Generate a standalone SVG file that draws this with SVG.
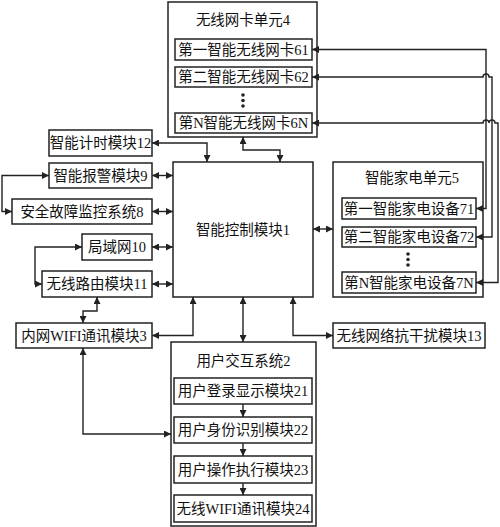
<svg xmlns="http://www.w3.org/2000/svg" width="500" height="527" viewBox="0 0 500 527">
<style>
.b{fill:#fff;stroke:#222;stroke-width:1.5}
.t{font-family:"Liberation Serif","Noto Sans CJK SC",serif;font-size:14.5px;fill:#111;text-anchor:middle}
.c{fill:none;stroke:#222;stroke-width:1.4}
.d{fill:#222}
</style>
<defs>
<marker id="ah" viewBox="0 0 10 10" refX="10" refY="5" markerWidth="7" markerHeight="7" markerUnits="userSpaceOnUse" orient="auto-start-reverse"><path d="M0,0 L10,5 L0,10 z" fill="#222"/></marker>
</defs>
<rect width="500" height="527" fill="#fff"/>
<g id="n4">
<rect class="b" x="168" y="2" width="149" height="135"/>
<text class="t" x="243" y="25">无线网卡单元4</text>
</g>
<g id="n61"><rect class="b" x="175" y="39" width="137" height="21"/><text class="t" x="243.5" y="55">第一智能无线网卡61</text></g>
<g id="n62"><rect class="b" x="175" y="67" width="137" height="20"/><text class="t" x="243.5" y="82">第二智能无线网卡62</text></g>
<g id="dots4"><circle class="d" cx="243" cy="95" r="1.8"/><circle class="d" cx="243" cy="100.5" r="1.8"/><circle class="d" cx="243" cy="106" r="1.8"/></g>
<g id="n6N"><rect class="b" x="175" y="113" width="137" height="20"/><text class="t" x="243.5" y="128">第N智能无线网卡6N</text></g>
<g id="n5">
<rect class="b" x="333" y="162" width="150" height="135"/>
<text class="t" x="412" y="183">智能家电单元5</text>
</g>
<g id="n71"><rect class="b" x="342" y="198" width="134" height="21"/><text class="t" x="409" y="214">第一智能家电设备71</text></g>
<g id="n72"><rect class="b" x="342" y="227" width="134" height="20"/><text class="t" x="409" y="242">第二智能家电设备72</text></g>
<g id="dots5"><circle class="d" cx="408" cy="254" r="1.8"/><circle class="d" cx="408" cy="259.5" r="1.8"/><circle class="d" cx="408" cy="265" r="1.8"/></g>
<g id="n7N"><rect class="b" x="342" y="272" width="134" height="21"/><text class="t" x="409" y="288">第N智能家电设备7N</text></g>
<g id="n1"><rect class="b" x="173" y="162" width="140" height="135"/><text class="t" x="243" y="235">智能控制模块1</text></g>
<g id="n12"><rect class="b" x="49" y="130" width="103" height="26"/><text class="t" x="100.5" y="148">智能计时模块12</text></g>
<g id="n9"><rect class="b" x="49" y="163" width="103" height="25"/><text class="t" x="100.5" y="180.5">智能报警模块9</text></g>
<g id="n8"><rect class="b" x="12" y="199" width="140" height="25"/><text class="t" x="82" y="216.5">安全故障监控系统8</text></g>
<g id="n10"><rect class="b" x="82" y="234" width="70" height="26"/><text class="t" x="117" y="252">局域网10</text></g>
<g id="n11"><rect class="b" x="42" y="271" width="110" height="26"/><text class="t" x="97" y="289">无线路由模块11</text></g>
<g id="n3"><rect class="b" x="16" y="323" width="136" height="25"/><text class="t" x="84" y="340.5">内网WIFI通讯模块3</text></g>
<g id="n13"><rect class="b" x="333" y="323" width="152" height="25"/><text class="t" x="409" y="340.5">无线网络抗干扰模块13</text></g>
<g id="n2">
<rect class="b" x="171" y="342" width="145" height="184"/>
<text class="t" x="243.5" y="366">用户交互系统2</text>
</g>
<g id="n21"><rect class="b" x="174" y="378" width="138" height="26"/><text class="t" x="243" y="396">用户登录显示模块21</text></g>
<g id="n22"><rect class="b" x="174" y="417" width="138" height="26"/><text class="t" x="243" y="435">用户身份识别模块22</text></g>
<g id="n23"><rect class="b" x="174" y="456" width="138" height="27"/><text class="t" x="243" y="474.5">用户操作执行模块23</text></g>
<g id="n24"><rect class="b" x="174" y="495" width="138" height="27"/><text class="t" x="243" y="513.5">无线WIFI通讯模块24</text></g>
<g id="connectors" class="c" marker-start="url(#ah)" marker-end="url(#ah)">
<path class="c" d="M152,143 H207 V162"/>
<path class="c" d="M243,137 V150 H280 V162"/>
<path class="c" d="M152,175.5 H173"/>
<path class="c" d="M152,211.5 H173"/>
<path class="c" d="M152,247 H173"/>
<path class="c" d="M152,284 H173"/>
<path class="c" d="M313,229 H333"/>
<path class="c" d="M49,175.5 H2 V211.5 H12"/>
<path class="c" d="M82,247 H35 V284 H42"/>
<path class="c" d="M97,297 V311 H83 V323"/>
<path class="c" d="M152,335.5 H193 V297"/>
<path class="c" d="M83,348 V434 H171"/>
<path class="c" d="M243,297 V342"/>
<path class="c" d="M293,297 V335.5 H333"/>
<path class="c" d="M312,49.5 H486 V208.5 H476"/>
<path class="c" d="M312,77 H483 A3,3 0 0 1 489,77 H492 V237 H476"/>
<path class="c" d="M312,123 H483 A3,3 0 0 1 489,123 A3,3 0 0 1 495,123 H498 V282.5 H476"/>
<path class="c" d="M243,404 V417" marker-start="none"/>
<path class="c" d="M243,443 V456" marker-start="none"/>
<path class="c" d="M243,483 V495" marker-start="none"/>
</g>
</svg>
